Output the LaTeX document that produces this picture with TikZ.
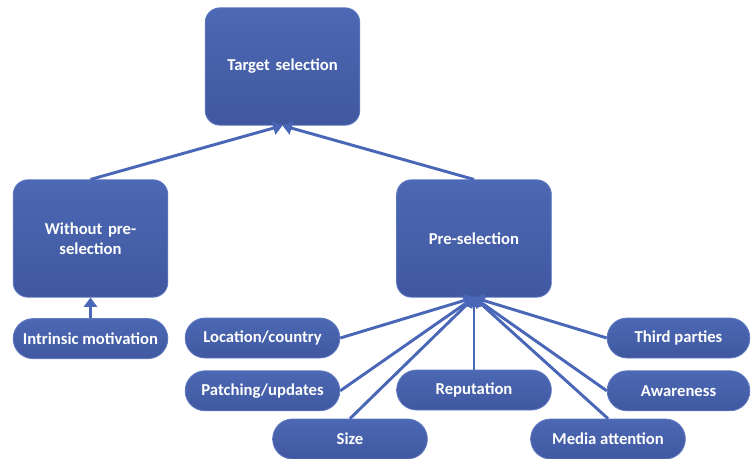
\documentclass[tikz,border=0pt]{standalone}
\usepackage{fontspec}
\setmainfont{Carlito}
\usepackage{tikz}
\usetikzlibrary{arrows.meta,positioning}
\definecolor{boxtop}{HTML}{4D68B4}
\definecolor{boxbot}{HTML}{3F58A0}
\definecolor{boxline}{HTML}{5F79C2}
\definecolor{link}{HTML}{4A66B6}
\tikzset{
  box/.style={draw=boxline, line width=0.6pt, top color=boxtop, bottom color=boxbot,
              rounded corners=11pt, align=center, text=white, font=\fontsize{12.5}{15}\selectfont\bfseries,
              minimum width=116pt, minimum height=88pt, text width=100pt, inner sep=2pt},
  pill/.style={box, rounded corners=14.9pt, minimum height=30pt, text width=, inner sep=0pt},
  arr/.style={-{Triangle[length=7pt,width=10pt]}, line width=2.2pt, draw=link},
}

\begin{document}
\begin{tikzpicture}[x=0.75pt, y=-0.75pt]
  \useasboundingbox (0,0) rectangle (752,459);
  % top and middle level
  \node[box] (tgt) at (282.5,66.5) {Target selection};
  \node[box] (wo) at (90.5,238.5) {Without pre-\\selection};
  \node[box] (pre) at (474,238.5) {Pre-selection};
  % factors
  \node[pill, below=15.5pt of wo] (intr) {Intrinsic motivation};
  \node[pill] (loc) at (262.5,338) {Location/country};
  \node[pill, below=9pt of loc] (pat) {Patching/updates};
  \node[pill] (size) at (350,439) {Size};
  \node[pill] (rep) at (474,390) {Reputation};
  \node[pill] (med) at (608,439) {Media attention};
  \node[pill, minimum width=107pt] (third) at (678.5,338) {Third parties};
  \node[pill, minimum width=107pt, below=9pt of third] (awa) {Awareness};
  \draw[arr] (wo.north) -- (tgt.south);
  \draw[arr] (pre.north) -- (tgt.south);
  \draw[arr] (intr) -- (wo);
  \draw[arr] (loc.east) -- (pre.south);
  \draw[arr] (pat.east) -- (pre.south);
  \draw[arr] (size.north) -- (pre.south);
  \draw[arr] (rep.north) -- (pre.south);
  \draw[arr] (med.north) -- (pre.south);
  \draw[arr] (awa.west) -- (pre.south);
  \draw[arr] (third.west) -- (pre.south);
\end{tikzpicture}
\end{document}
